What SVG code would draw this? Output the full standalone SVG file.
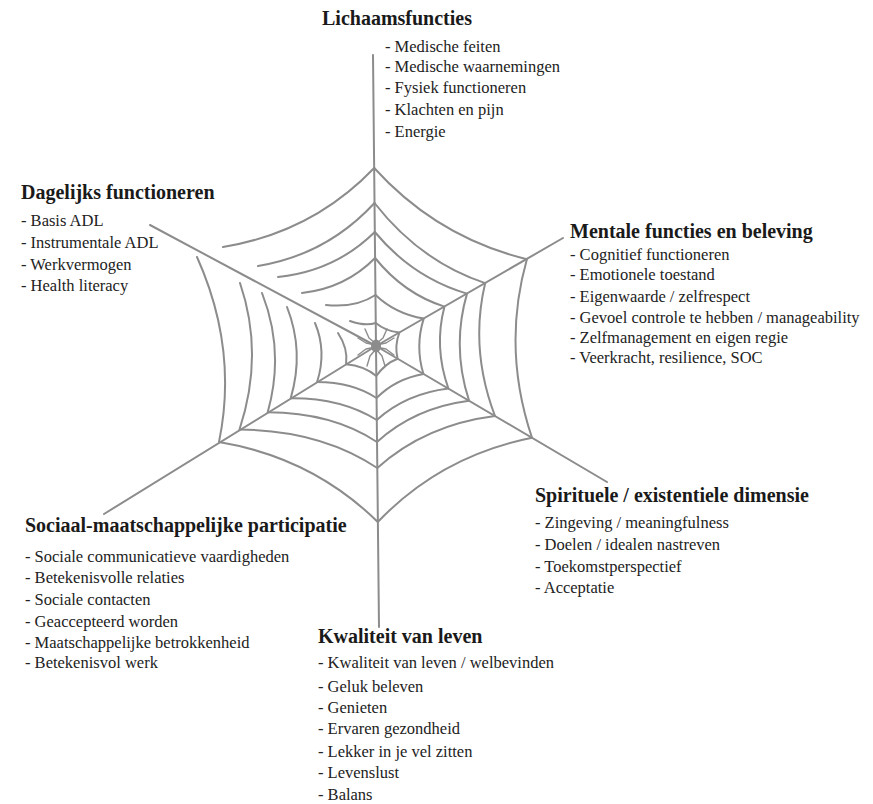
<svg xmlns="http://www.w3.org/2000/svg" width="873" height="804" viewBox="0 0 873 804">
<style>
.w{fill:none;stroke:#8c8c8c;stroke-width:2;stroke-linecap:round;stroke-linejoin:round}
.leg{fill:none;stroke:#8c8c8c;stroke-width:1.4;stroke-linecap:round;stroke-linejoin:round}
.t{font-family:"Liberation Serif","DejaVu Serif",serif;font-weight:bold;font-size:20px;fill:#1a1a1a}
.i{font-family:"Liberation Serif","DejaVu Serif",serif;font-size:16.5px;fill:#222222}
</style>
<rect width="873" height="804" fill="#ffffff"/>
<g id="connectors">
<g id="axes" class="w">
<path d="M373,55 L376,346 L379,627"/>
<path d="M376,346 L563,238"/>
<path d="M376,346 L607,482"/>
<path d="M376,346 L104,514"/>
<path d="M376,346 L150,225"/>
</g>
<g id="rings" class="w">
<path d="M374.2,168 Q437.2,237.4 526.9,259.2 Q501.8,348 532,437.8 Q440.8,455.9 377.8,522 Q312.4,457.6 219,442 Q238.2,348.9 197,257"/>
<path d="M374.2,168 Q312.5,232.4 223,247"/>
<path d="M374.5,203 Q420.2,261.6 485.2,283.1 Q469.5,348.9 495,416 Q425.3,424.8 377.3,468 Q320.6,430.2 239.5,429.5 Q264.3,354.4 240,283"/>
<path d="M374.5,203 Q327,254.6 258,266"/>
<path d="M374.8,232 Q412.8,277.7 467,293.6 Q451.5,346.9 469.1,400.8 Q414.6,407.8 377,442 Q332,412.5 267.7,412.3 Q284.9,351.5 262,293"/>
<path d="M374.8,232 Q335.3,271 278,277"/>
<path d="M375.1,258 Q403.8,293.7 444.5,306.6 Q433.7,347.3 448.4,388.6 Q406,393.8 376.8,420 Q341.4,397.8 290.7,398.2 Q304.5,351.4 287,307"/>
<path d="M375.1,258 Q345.3,288.2 302,293"/>
<path d="M375.5,295 Q395.4,313.9 423.7,318.6 Q415,346.2 423.4,373.9 Q395.6,378.8 376.5,398 Q352.1,382 317.1,382 Q326.9,351.3 315,323"/>
<path d="M375.5,295 Q355.3,308.2 326,305"/>
<path d="M375.8,323 Q385.5,331.1 399.4,332.5 Q394.4,345.6 397.6,358.7 Q385,363.5 376.3,376 Q363.9,365.8 346.1,364.3 Q348.2,348.2 338,333"/>
<path d="M375.8,323 Q365.2,326.4 350,321"/>
</g>
<g id="spider">
<ellipse cx="376" cy="346" rx="5" ry="6.5" fill="#8c8c8c"/>
<path class="leg" d="M376,344 l-7,-6 l-4,-9 M376,344 l7,-6 l4,-9 M376,345 l-10,-2 l-8,-5 M376,345 l10,-2 l8,-5 M376,347 l-10,2 l-8,6 M376,347 l10,2 l8,6 M376,349 l-6,7 l-3,10 M376,349 l6,7 l3,10"/>
</g>
</g>
<g id="lichaamsfuncties">
<text class="t" x="322" y="25">Lichaamsfuncties</text>
<text class="i" x="385" y="52">- Medische feiten</text>
<text class="i" x="385" y="72">- Medische waarnemingen</text>
<text class="i" x="385" y="93">- Fysiek functioneren</text>
<text class="i" x="385" y="115">- Klachten en pijn</text>
<text class="i" x="385" y="137">- Energie</text>
</g>
<g id="mentale-functies">
<text class="t" x="570" y="238">Mentale functies en beleving</text>
<text class="i" x="570" y="260">- Cognitief functioneren</text>
<text class="i" x="570" y="280">- Emotionele toestand</text>
<text class="i" x="570" y="302">- Eigenwaarde / zelfrespect</text>
<text class="i" x="570" y="323">- Gevoel controle te hebben / manageability</text>
<text class="i" x="570" y="343">- Zelfmanagement en eigen regie</text>
<text class="i" x="570" y="363">- Veerkracht, resilience, SOC</text>
</g>
<g id="dagelijks-functioneren">
<text class="t" x="21" y="199">Dagelijks functioneren</text>
<text class="i" x="21" y="226">- Basis ADL</text>
<text class="i" x="21" y="248">- Instrumentale ADL</text>
<text class="i" x="21" y="270">- Werkvermogen</text>
<text class="i" x="21" y="291">- Health literacy</text>
</g>
<g id="spirituele-dimensie">
<text class="t" x="535" y="502">Spirituele / existentiele dimensie</text>
<text class="i" x="535" y="528">- Zingeving / meaningfulness</text>
<text class="i" x="535" y="550">- Doelen / idealen nastreven</text>
<text class="i" x="535" y="572">- Toekomstperspectief</text>
<text class="i" x="535" y="593">- Acceptatie</text>
</g>
<g id="sociaal-maatschappelijke-participatie">
<text class="t" x="25" y="532">Sociaal-maatschappelijke participatie</text>
<text class="i" x="25" y="562">- Sociale communicatieve vaardigheden</text>
<text class="i" x="25" y="583">- Betekenisvolle relaties</text>
<text class="i" x="25" y="605">- Sociale contacten</text>
<text class="i" x="25" y="627">- Geaccepteerd worden</text>
<text class="i" x="25" y="648">- Maatschappelijke betrokkenheid</text>
<text class="i" x="25" y="668">- Betekenisvol werk</text>
</g>
<g id="kwaliteit-van-leven">
<text class="t" x="318" y="643">Kwaliteit van leven</text>
<text class="i" x="318" y="668">- Kwaliteit van leven / welbevinden</text>
<text class="i" x="318" y="692">- Geluk beleven</text>
<text class="i" x="318" y="713">- Genieten</text>
<text class="i" x="318" y="734">- Ervaren gezondheid</text>
<text class="i" x="318" y="757">- Lekker in je vel zitten</text>
<text class="i" x="318" y="778">- Levenslust</text>
<text class="i" x="318" y="800">- Balans</text>
</g>
</svg>
